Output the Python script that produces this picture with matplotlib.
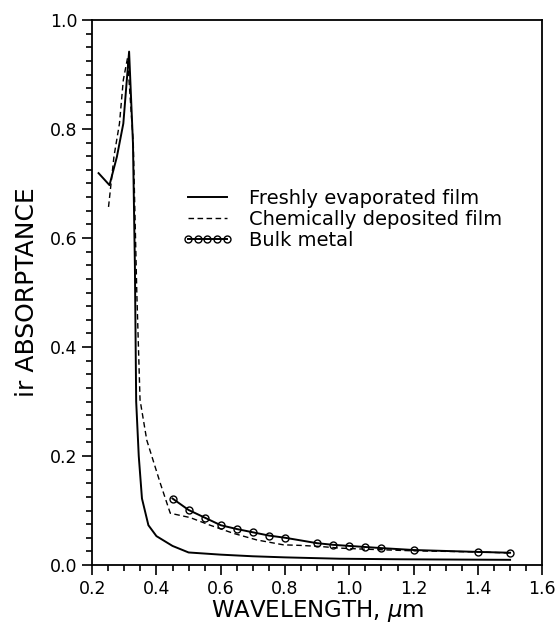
import numpy as np
import matplotlib.pyplot as plt
from matplotlib.ticker import MultipleLocator

# Freshly evaporated film (solid)
xFresh = [0.22, 0.254, 0.277, 0.297, 0.315, 0.327, 0.333, 0.337, 0.345, 0.355, 0.375, 0.40, 0.45, 0.50, 0.60, 0.70, 0.80, 0.97, 1.16, 1.50]
yFresh = [0.719, 0.697, 0.749, 0.81, 0.942, 0.774, 0.55, 0.30, 0.20, 0.122, 0.073, 0.053, 0.035, 0.023, 0.019, 0.016, 0.014, 0.0115, 0.0105, 0.0095]

# Chemically deposited film (dashed)
xChem = [0.251, 0.268, 0.285, 0.297, 0.31, 0.328, 0.339, 0.349, 0.37, 0.412, 0.443, 0.505, 0.567, 0.64, 0.712, 0.795, 0.847, 0.909, 0.97, 1.05, 1.2, 1.4, 1.5]
yChem = [0.657, 0.75, 0.81, 0.89, 0.93, 0.774, 0.499, 0.303, 0.229, 0.15, 0.095, 0.087, 0.073, 0.058, 0.046, 0.037, 0.036, 0.034, 0.031, 0.029, 0.026, 0.024, 0.022]

# Bulk metal (circles)
xBulk = [0.45, 0.50, 0.55, 0.60, 0.65, 0.70, 0.75, 0.80, 0.90, 0.95, 1.00, 1.05, 1.10, 1.20, 1.40, 1.50]
yBulk = [0.122, 0.101, 0.087, 0.073, 0.066, 0.060, 0.054, 0.050, 0.040, 0.037, 0.035, 0.033, 0.031, 0.0275, 0.024, 0.0225]

fig = plt.figure(figsize=(5.55, 6.25), dpi=100)
ax = fig.add_axes([0.166, 0.096, 0.811, 0.872])

ax.plot(xFresh, yFresh, color="k", lw=1.4, label="Freshly evaporated film")
ax.plot(xChem, yChem, color="k", lw=1.0, ls=(0, (4, 2.5)), label="Chemically deposited film")
ax.plot(xBulk, yBulk, color="k", lw=1.4, marker="o", ms=5, mfc="none", mec="k", mew=1.0, label="Bulk metal")

ax.set_xlim(0.2, 1.6)
ax.set_ylim(0.0, 1.0)
ax.xaxis.set_major_locator(MultipleLocator(0.2))
ax.xaxis.set_minor_locator(MultipleLocator(0.05))
ax.yaxis.set_major_locator(MultipleLocator(0.2))
ax.yaxis.set_minor_locator(MultipleLocator(0.025))
ax.xaxis.set_major_formatter(plt.FormatStrFormatter("%.1f"))
ax.yaxis.set_major_formatter(plt.FormatStrFormatter("%.1f"))

ax.tick_params(which="major", direction="out", length=7, width=1.2, labelsize=12.5, pad=3.5)
ax.tick_params(which="minor", direction="out", length=4.5, width=1.2)
for s in ax.spines.values():
    s.set_linewidth(1.3)

ax.set_xlabel(r"WAVELENGTH, $\mu$m", fontsize=16.5, labelpad=0)
ax.set_ylabel("ir ABSORPTANCE", fontsize=18, labelpad=8)

ax.legend(loc="upper left", bbox_to_anchor=(0.2, 0.69), frameon=False, fontsize=14,
          handlelength=2.6, handletextpad=0.85, labelspacing=0.1, borderaxespad=0,
          borderpad=0, numpoints=5)

fig.savefig("out.png", dpi=100)
